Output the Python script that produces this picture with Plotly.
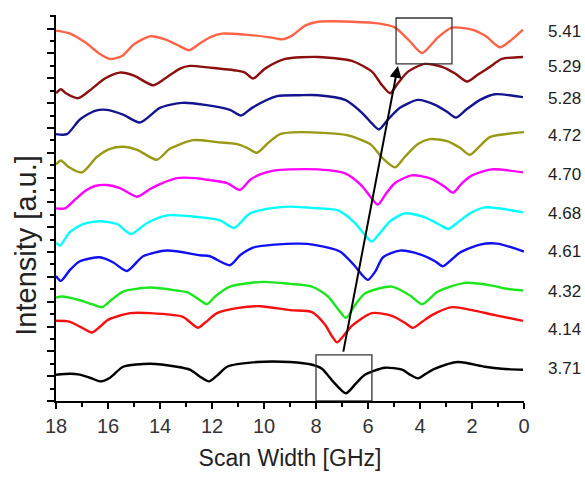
import plotly.graph_objects as go

# ---- data (Scan width in GHz, intensity in a.u., curves offset) ----
labels = ["5.41", "5.29", "5.28", "4.72", "4.70", "4.68", "4.61", "4.32", "4.14", "3.71"]

x_541 = [18.0,17.46,16.88,16.31,15.92,15.46,15.0,14.38,13.81,13.23,12.88,12.46,12.08,11.62,10.73,9.77,9.31,8.92,8.42,7.92,6.62,5.54,4.96,4.46,3.92,3.31,2.77,2.0,1.46,0.92,0.46,0.04]
y_541 = [14.92,14.8,14.45,13.98,13.78,13.9,14.37,14.69,14.57,14.29,14.13,14.41,14.65,14.8,14.76,14.65,14.57,14.72,15.12,15.28,15.28,15.2,15.04,14.57,14.02,14.65,15.04,14.96,14.69,14.25,14.57,14.96]

x_529 = [18.0,17.81,17.62,17.15,16.69,16.12,15.54,15.0,14.27,13.81,13.23,12.85,12.08,11.04,10.73,10.42,9.96,9.19,7.92,6.62,5.85,5.46,5.15,4.85,4.46,3.81,3.15,2.65,2.19,1.77,1.31,0.85,0.04]
y_529 = [12.4,12.56,12.4,12.2,12.52,12.99,13.23,13.11,12.72,12.99,13.39,13.5,13.43,13.31,13.23,12.99,13.39,13.78,13.86,13.7,13.27,12.72,12.4,12.8,13.27,13.58,13.46,13.19,12.87,13.15,13.46,13.78,13.86]

x_528 = [18.0,17.58,17.08,16.5,16.04,15.42,14.77,14.0,13.15,12.27,11.31,10.88,10.46,9.5,8.62,7.92,6.88,6.23,5.85,5.58,5.23,4.77,4.08,3.42,2.96,2.62,2.23,1.69,1.12,0.04]
y_528 = [10.75,10.75,11.34,11.69,11.73,11.54,11.22,11.81,12.01,11.93,11.73,11.5,11.81,12.28,12.32,12.32,12.13,11.61,11.18,10.94,11.34,11.81,12.13,11.93,11.65,11.42,11.73,12.13,12.36,12.24]

x_472 = [18.0,17.81,17.54,17.0,16.42,15.92,15.42,14.88,14.12,13.62,12.73,11.81,11.04,10.65,10.27,9.85,9.38,8.62,6.81,5.92,5.42,4.96,4.58,4.08,3.62,2.96,2.46,2.08,1.69,1.31,0.0]
y_472 = [9.53,9.69,9.45,9.21,9.84,10.16,10.24,10.12,9.72,10.16,10.51,10.43,10.35,10.2,10.0,10.39,10.75,10.83,10.71,10.35,9.76,9.41,9.84,10.35,10.55,10.47,10.2,9.92,10.28,10.63,10.83]

x_470 = [18.0,17.65,17.27,16.88,16.5,16.04,15.54,14.88,14.38,14.0,13.35,12.65,12.08,11.42,10.92,10.54,10.15,9.58,9.0,7.92,6.88,6.23,5.85,5.62,5.31,4.96,4.31,3.54,3.04,2.73,2.38,2.0,1.23,0.04]
y_470 = [7.76,7.76,8.11,8.46,8.66,8.7,8.58,8.23,8.54,8.74,8.98,8.98,8.9,8.78,8.5,8.9,9.13,9.29,9.33,9.33,9.17,8.66,8.15,7.91,8.35,8.78,9.09,8.94,8.62,8.39,8.78,9.09,9.33,9.21]

x_468 = [18.0,17.85,17.46,16.96,16.31,15.65,15.12,14.5,13.73,12.46,11.69,11.15,10.54,9.77,9.0,7.92,7.15,6.5,6.12,5.85,5.54,5.15,4.58,3.81,3.23,2.92,2.58,2.08,1.5,0.04]
y_468 = [6.38,6.26,6.81,7.13,7.24,7.13,6.73,7.17,7.48,7.4,7.28,6.97,7.56,7.76,7.83,7.76,7.68,7.17,6.69,6.42,6.77,7.24,7.56,7.4,7.09,6.93,7.17,7.56,7.8,7.6]

x_461 = [18.0,17.81,17.46,17.08,16.31,15.81,15.27,14.65,13.73,12.46,12.08,11.31,10.92,10.42,9.58,8.62,8.12,7.08,6.5,6.23,6.0,5.73,5.42,4.77,4.0,3.42,3.12,2.77,2.46,1.69,1.04,0.0]
y_461 = [5.04,4.84,5.28,5.63,5.79,5.59,5.24,5.83,6.06,5.87,5.83,5.47,5.87,6.18,6.3,6.34,6.3,6.02,5.43,5.08,4.88,5.2,5.79,6.06,5.91,5.63,5.43,5.71,5.98,6.3,6.34,6.02]

x_432 = [18.0,17.77,17.08,16.62,16.23,15.85,15.42,14.38,13.35,12.92,12.46,12.19,11.88,11.31,10.04,9.0,8.15,7.54,7.15,6.85,6.5,6.12,5.08,4.38,3.92,3.31,2.27,1.23,0.73,0.04]
y_432 = [4.17,4.21,4.06,3.9,3.78,4.09,4.41,4.57,4.45,4.37,4.06,3.9,4.21,4.61,4.8,4.72,4.61,4.21,3.7,3.35,3.86,4.33,4.61,4.25,3.9,4.41,4.76,4.65,4.53,4.45]

x_414 = [18.0,17.46,17.0,16.62,16.31,16.0,15.15,14.38,13.12,12.77,12.54,12.27,11.81,11.04,10.15,9.0,8.15,7.65,7.38,7.19,6.96,6.62,5.85,5.08,4.58,4.27,3.92,3.54,2.77,2.0,1.12,0.04]
y_414 = [3.23,3.19,2.95,2.76,2.99,3.27,3.54,3.54,3.39,3.11,2.95,3.15,3.54,3.74,3.82,3.66,3.58,3.07,2.6,2.36,2.6,3.03,3.54,3.43,3.15,2.95,3.19,3.46,3.78,3.66,3.46,3.23]

x_371 = [18.0,17.46,17.08,16.62,16.31,15.92,15.42,14.38,13.35,12.85,12.46,12.12,11.77,11.42,10.27,9.0,8.15,7.77,7.35,6.85,6.46,6.12,5.35,4.69,4.38,4.08,3.77,3.42,2.54,1.5,0.85,0.04]
y_371 = [1.06,1.1,1.06,0.91,0.79,0.94,1.38,1.5,1.38,1.26,0.98,0.79,1.06,1.38,1.57,1.57,1.46,1.3,0.79,0.31,0.71,1.06,1.34,1.26,1.06,0.91,1.1,1.3,1.57,1.38,1.3,1.26]

# label vertical positions (a.u.)
label_y = [14.88, 13.46, 12.2, 10.71, 9.13, 7.56, 6.02, 4.41, 2.87, 1.3]

# boxes and arrow (GHz, a.u.)
box_top = [4.92, 2.77, 13.58, 15.43]
box_bottom = [8.0, 5.85, 0.0, 1.86]
arrow_from = [6.96, 1.93]
arrow_to = [4.85, 13.5]

series = [(x_541, y_541), (x_529, y_529), (x_528, y_528), (x_472, y_472), (x_470, y_470),
          (x_468, y_468), (x_461, y_461), (x_432, y_432), (x_414, y_414), (x_371, y_371)]
colors = ["#FF6347", "#8B0F0F", "#14148F", "#999915", "#FF00FF",
          "#00FFFF", "#1010F0", "#1EE61E", "#F51010", "#000000"]

FONT = "Liberation Sans, Arial, sans-serif"

fig = go.Figure()
for (xs, ys), c, lab in zip(series, colors, labels):
    fig.add_trace(go.Scatter(x=xs, y=ys, mode="lines", name=lab,
                             line=dict(color=c, width=2.4, shape="spline", smoothing=0.7),
                             showlegend=False, hoverinfo="skip"))

for lab, ly in zip(labels, label_y):
    fig.add_annotation(x=1.1265, xref="paper", y=ly, yref="y", text=lab, showarrow=False,
                       xanchor="right", yanchor="middle",
                       font=dict(family=FONT, size=17, color="#222"))

# y-axis title placed as a rotated annotation (sits below the axis centre as in the reference)
fig.add_annotation(x=-0.066, xref="paper", y=6.26, yref="y", text="Intensity [a.u.]",
                   textangle=-90, showarrow=False, xanchor="center", yanchor="middle",
                   font=dict(family=FONT, size=29, color="#222"))

for b in (box_top, box_bottom):
    fig.add_shape(type="rect", xref="x", yref="y", x0=b[0], x1=b[1], y0=b[2], y1=b[3],
                  line=dict(color="#333", width=1.3), fillcolor="rgba(0,0,0,0)", layer="above")

fig.add_annotation(x=arrow_to[0], y=arrow_to[1], ax=arrow_from[0], ay=arrow_from[1],
                   xref="x", yref="y", axref="x", ayref="y", text="", showarrow=True,
                   arrowhead=2, arrowsize=1.2, arrowwidth=2, arrowcolor="#000")

fig.update_layout(
    width=585, height=479,
    margin=dict(l=56, r=61, t=15, b=69),
    paper_bgcolor="white", plot_bgcolor="white",
    font=dict(family=FONT, color="#222"),
    xaxis=dict(range=[18, 0], dtick=2, tick0=0, ticks="outside", ticklen=6, tickwidth=1.5,
               tickcolor="#000", showline=True, linecolor="#000", linewidth=2,
               showgrid=False, zeroline=False,
               tickfont=dict(family=FONT, size=20, color="#333"),
               minor=dict(dtick=1, ticks="outside", ticklen=4, tickcolor="#000", tickwidth=1.5, showgrid=False),
               title=dict(text="Scan Width [GHz]", font=dict(family=FONT, size=23, color="#222"), standoff=14)),
    yaxis=dict(range=[0, 15.55], dtick=1, tick0=0, ticks="outside", ticklen=7, tickwidth=1.5,
               tickcolor="#000", showline=True, linecolor="#000", linewidth=2,
               showgrid=False, zeroline=False, showticklabels=False,
               minor=dict(dtick=0.5, ticks="outside", ticklen=4, tickcolor="#000", tickwidth=1.5, showgrid=False)),
)

fig.write_html("out.html", config={"displayModeBar": False},
               post_script="document.documentElement.style.overflow='hidden';"
                           "document.body.style.margin='0';document.body.style.overflow='hidden';")
